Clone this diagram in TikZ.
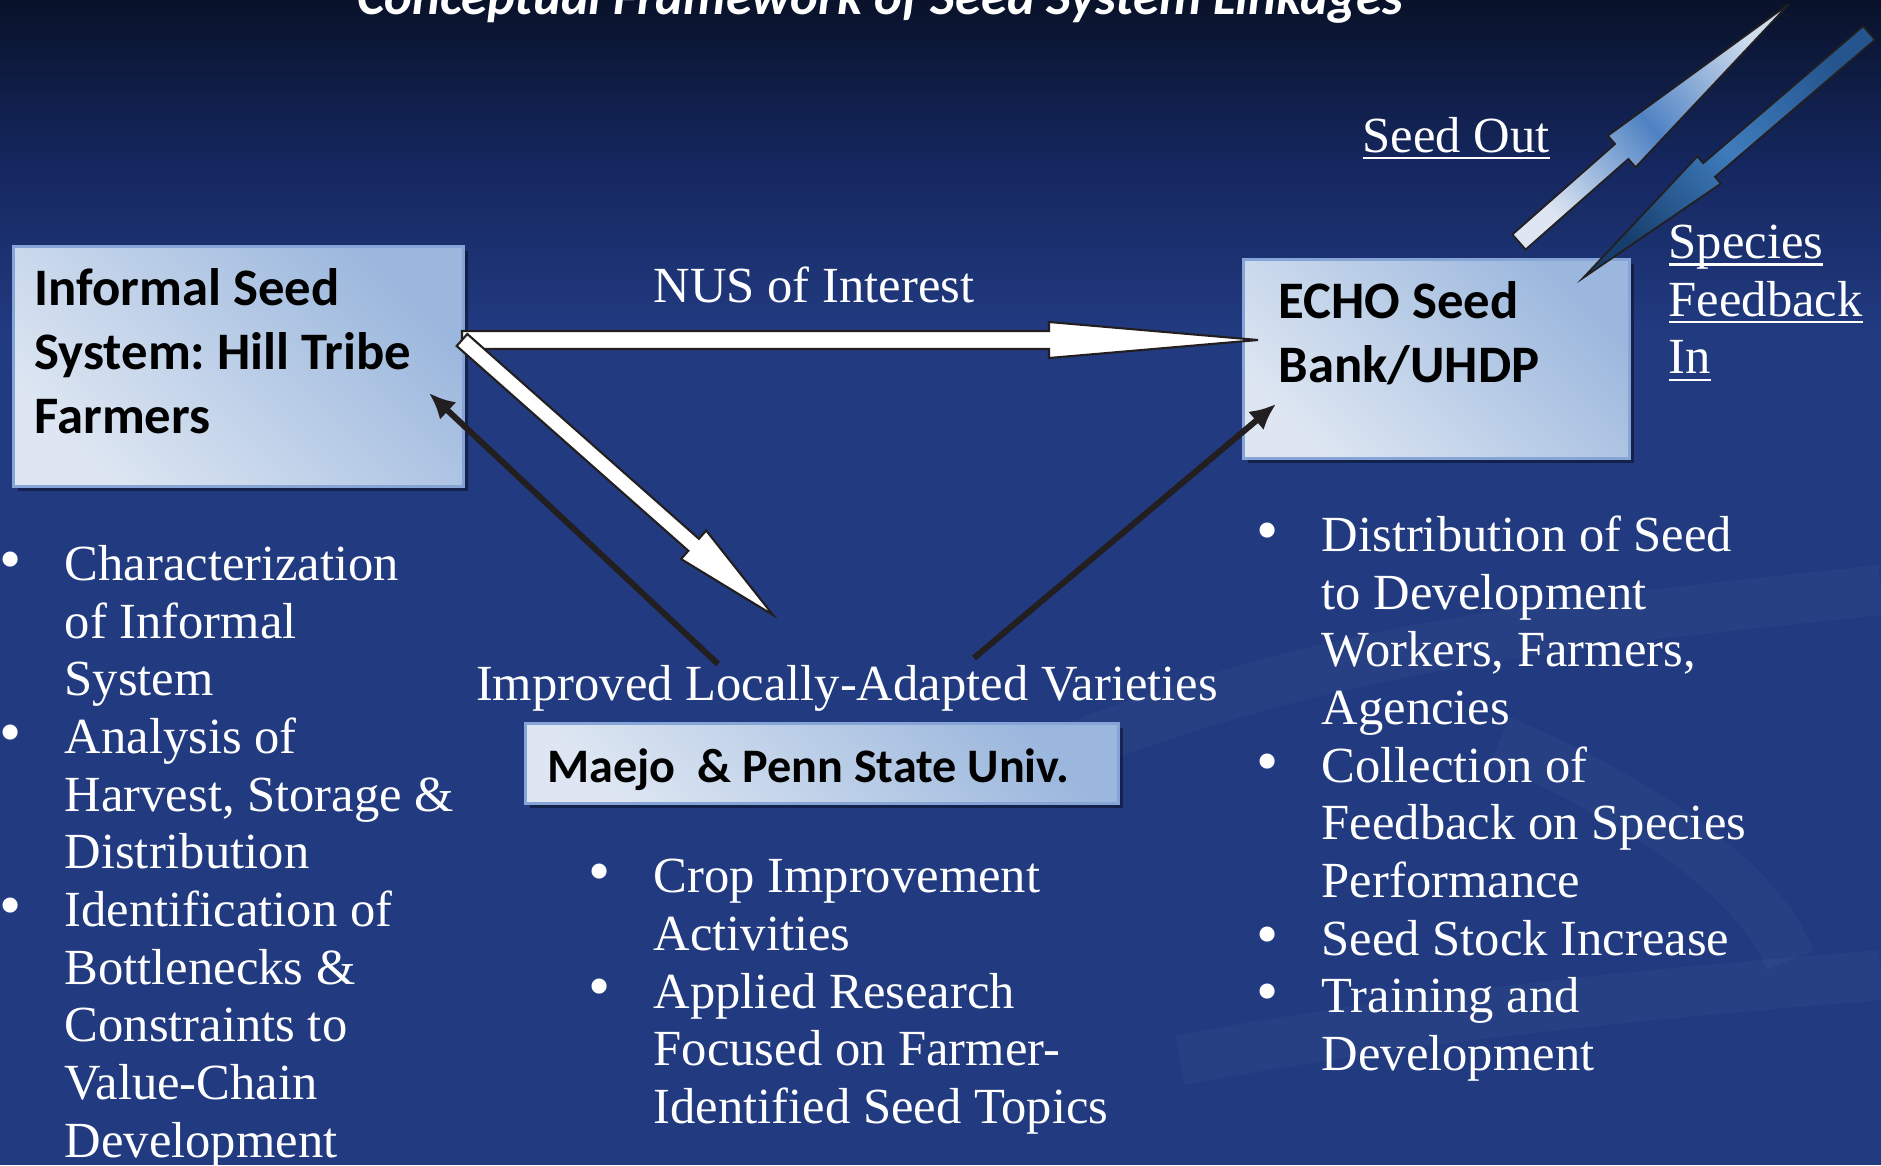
\documentclass[tikz,border=0pt]{standalone}
\usepackage{fontspec}
\setmainfont{Liberation Serif}
\newfontfamily\calib{Carlito}
\usepackage{xcolor}
\usetikzlibrary{arrows.meta,calc,shadows,positioning}
\definecolor{seednavy}{HTML}{213A80}
\definecolor{seedmid}{HTML}{15275F}
\definecolor{seeddeep}{HTML}{09122A}
\definecolor{boxlo}{HTML}{DDE6F2}
\definecolor{boxhi}{HTML}{9BB7DD}
\definecolor{boxrim}{HTML}{86A5D6}
\definecolor{inkdark}{HTML}{231F20}
\definecolor{outtail}{HTML}{DDE6F2}
\definecolor{outmid}{HTML}{4F82C3}
\definecolor{outtip}{HTML}{CFDCEE}
\definecolor{intail}{HTML}{24558E}
\definecolor{inmid}{HTML}{3F7CBD}
\definecolor{intip}{HTML}{163D6B}

% fat arrow as a polygon: [style]{from}{to}{half shaft}{half head}{head length}
\newcommand\blockarrow[6][]{%
  \coordinate (ba-b) at ($(#3)!#6!(#2)$);
  \path[#1] ($(#2)!#4!90:(#3)$) -- ($(ba-b)!#4!-90:(#2)$) -- ($(ba-b)!#5!-90:(#2)$)
    -- (#3) -- ($(ba-b)!#5!90:(#2)$) -- ($(ba-b)!#4!90:(#2)$)
    -- ($(#2)!#4!-90:(#3)$) -- cycle;}
\newcommand\uline[1]{\leavevmode\setbox0\hbox{#1}\rlap{\rule[-2pt]{\wd0}{0.7pt}}\box0}
\newcommand\bxtext[3]{\parbox[c][#1][t]{#2}{\rule{0pt}{5.9mm}#3}}
\newcommand\bul{\llap{\scalebox{1.25}{\textbullet}\hspace{4.3mm}}}
\frenchspacing

\begin{document}
\begin{tikzpicture}[
    x=0.1mm, y=-0.1mm,
    bx/.style   = {draw=boxrim, line width=0.3mm, shading=axis, top color=boxhi,
                   bottom color=boxlo, shading angle=-45, inner ysep=0pt,
                   anchor=north west,
                   drop shadow={shadow xshift=1.3pt, shadow yshift=-1.3pt,
                                fill=black, opacity=0.4},
                   font=\calib\bfseries\fontsize{15pt}{18.2pt}\selectfont},
    lbl/.style  = {text=white, inner sep=0pt, font=\fontsize{14.4pt}{16.4pt}\selectfont},
    lst/.style  = {lbl, align=left, anchor=north west},
    blk/.style  = {-{Latex[length=2.6mm,width=2.4mm]}, draw=inkdark, line width=0.6mm},
    wht/.style  = {fill=white, draw=inkdark, line width=0.6pt, line join=miter},
    outar/.style= {draw=inkdark, line width=0.5pt, shading=axis, top color=outtip,
                   bottom color=outtail, middle color=outmid, shading angle=-48.6},
    inar/.style = {draw=inkdark, line width=0.5pt, shading=axis, top color=intail,
                   bottom color=intip, middle color=inmid, shading angle=-49.4},
    swirl/.style= {line width=5mm, white, opacity=0.03},
  ]
  \useasboundingbox (0,0) rectangle (1881,1165);
  \clip (0,0) rectangle (1881,1165);

  % backdrop
  \fill[seednavy] (0,0) rectangle (1881,1165);
  \shade[top color=seeddeep, bottom color=seednavy, middle color=seedmid]
        (0,0) rectangle (1881,330);
  \draw[swirl] (1080,745) .. controls (1350,640) and (1600,620) .. (1881,590);
  \draw[swirl] (1500,740) .. controls (1640,800) and (1760,880) .. (1790,960);
  \draw[swirl] (1180,1060) .. controls (1450,1010) and (1700,990) .. (1881,975);

  \node[text=white, inner sep=0pt, anchor=base,
        font=\calib\bfseries\itshape\fontsize{15pt}{18pt}\selectfont]
        (ttl) at (880,14) {Conceptual Framework of Seed System Linkages};

  % the three partners
  \node[bx, inner xsep=2.1mm] (farm) at (12,245)
       {\bxtext{24mm}{40.8mm}{Informal Seed\\System: Hill Tribe\\Farmers}};
  \node[bx, inner xsep=3.5mm] (echo) at (1242,258)
       {\bxtext{19.9mm}{31.6mm}{ECHO Seed\\Bank/UHDP}};
  \node[bx, inner xsep=2.2mm, font=\calib\bfseries\fontsize{13.7pt}{16pt}\selectfont]
       (univ) at (524,722)
       {\bxtext{8mm}{54.9mm}{\mbox{Maejo~~\& Penn State Univ.}}};

  \node[lbl, anchor=base] (nus) at (814,302) {NUS of Interest};
  \node[lbl, anchor=base] (ilav) at (847,700) {Improved Locally-Adapted Varieties};
  \node[lbl, anchor=base west] (sout) at (1362,152) {\uline{Seed Out}};
  \node[lst] (sfin) at (1668,218)
       {\rule{0pt}{4mm}\uline{Species}\\\uline{Feedback}\\\uline{In}};

  \node[lst] (farmlist) at (64,540) {\rule{0pt}{4mm}\bul Characterization\\of Informal\\System\\
       \bul Analysis of\\Harvest, Storage \&\\Distribution\\
       \bul Identification of\\Bottlenecks \&\\Constraints to\\Value-Chain\\Development};
  \node[lst] (univlist) at (653,852) {\rule{0pt}{4mm}\bul Crop Improvement\\Activities\\
       \bul Applied Research\\Focused on Farmer-\\Identified Seed Topics};
  \node[lst] (echolist) at (1321,511) {\rule{0pt}{4mm}\bul Distribution of Seed\\
       to Development\\Workers, Farmers,\\Agencies\\
       \bul Collection of\\Feedback on Species\\Performance\\
       \bul Seed Stock Increase\\
       \bul Training and\\Development};

  % arrow ends
  \coordinate (farm-out) at (462,340);
  \coordinate (echo-in)  at (1258,340);
  \coordinate (univ-in)  at (773,615);
  \coordinate (farm-in)  at (429,393);
  \coordinate (univ-l)   at (718,664);
  \coordinate (univ-r)   at (974,658);
  \coordinate (echo-up)  at (1276,404);
  \coordinate (out-tail) at (1519,242);
  \coordinate (out-tip)  at (1789,4);
  \coordinate (in-tail)  at (1869,33);
  \coordinate (in-tip)   at (1583,278);

  \blockarrow[wht]{farm-out}{echo-in}{0.9mm}{1.8mm}{20.9mm}
  \blockarrow[wht]{farm-out}{univ-in}{0.8mm}{1.9mm}{10.6mm}
  \draw[blk] (univ-l) -- (farm-in);
  \draw[blk] (univ-r) -- (echo-up);
  \blockarrow[outar]{out-tail}{out-tip}{1mm}{2.1mm}{22.3mm}
  \blockarrow[inar]{in-tail}{in-tip}{0.9mm}{1.8mm}{16.6mm}

\end{tikzpicture}
\end{document}
